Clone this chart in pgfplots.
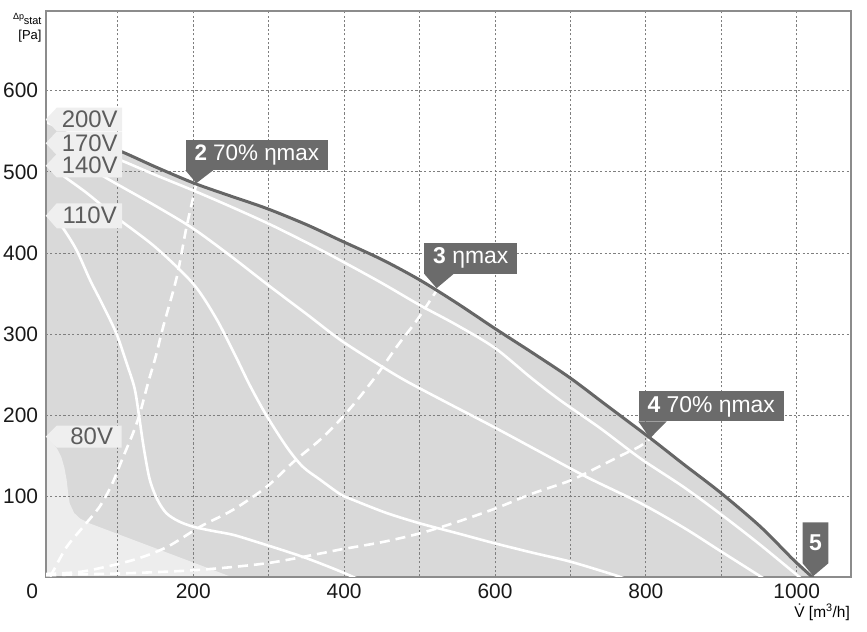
\documentclass[border=0pt]{standalone}
\usepackage{fontspec}
\setmainfont{Liberation Sans}
\usepackage{pgfplots}
\pgfplotsset{compat=1.18}
\definecolor{fillg}{HTML}{D9D9D9}
\definecolor{lightg}{HTML}{EDEDED}
\definecolor{darkl}{HTML}{666666}
\definecolor{callg}{HTML}{6B6B6B}
\definecolor{tagg}{HTML}{EFEFEF}
\definecolor{tagt}{HTML}{5C5C5C}
\definecolor{gridc}{HTML}{7F7F7F}
\definecolor{axisc}{HTML}{8C8C8C}
\begin{document}
\begin{tikzpicture}
\begin{axis}[
  set layers, clip mode=individual,
  at={(0bp,0bp)}, anchor=south west,
  scale only axis, width=805.3bp, height=565.7bp,
  xmin=4.3, xmax=1072, ymin=1.5, ymax=698,
  xtick={200,400,600,800,1000},
  minor xtick={100,300,500,700,900},
  ytick={100,200,300,400,500,600},
  grid=both,
  major grid style={gridc, line width=0.9bp, dash pattern=on 2.2bp off 2.2bp},
  minor grid style={gridc, line width=0.9bp, dash pattern=on 2.2bp off 2.2bp},
  major tick length=0pt, minor tick length=0pt,
  axis line style={axisc, line width=2.2bp},
  /pgf/number format/assume math mode=true,
  /pgf/number format/1000 sep={},
  tick label style={font=\fontsize{21}{24}\selectfont, inner sep=0pt, text=black!90},
  xticklabel style={yshift=-7bp},
  yticklabel style={xshift=-7.4bp},
]
% gray operating area (under top curve)
\addplot[on layer=axis background, fill=fillg, draw=none, smooth, tension=0.5] coordinates {
(0,561) (50,543) (107,524) (150,506) (201,486) (250,470) (297,455) (350,435) (394,416)
(450,392) (500,367) (550,338) (600,307) (650,277) (700,246) (750,211) (806,172) (850,140)
(899,105) (952,63) (996,22) (1022,0)} \closedcycle;
% light 80V region
\addplot[on layer=axis background, fill=lightg, draw=none] coordinates {
(0,176) (8,172) (14,166) (20,158) (25,149) (29,136) (32,121) (34,105) (36,92) (42,80) (50,73) (63,67) (254,0) (0,0)} -- cycle;

% white speed curves
\addplot[white, line width=2.6bp, smooth, tension=0.5] coordinates {
(70,526) (107,513) (150,496) (200,477) (250,457) (300,436) (350,413) (395,391)
(450,363) (500,336) (550,311) (600,283) (647,247) (686,219) (740,184) (793,147) (850,112)
(900,78) (950,42) (1005,0) (1010,-4)};
\addplot[white, line width=2.6bp, smooth, tension=0.5] coordinates {
(70,501) (89,490) (150,458) (200,430) (250,396) (300,360) (350,325) (395,293)
(440,266) (481,243) (540,214) (598,186) (660,155) (722,124) (793,92) (850,62) (899,33)
(950,3) (960,-3)};
\addplot[white, line width=2.6bp, smooth, tension=0.5] coordinates {
(28,495) (32,492) (60,473) (98,444) (150,407) (200,362) (230,320) (255,275) (275,237)
(297,200) (324,161) (345,137) (368,121) (395,103) (412,96) (456,80) (501,67) (550,55)
(598,43) (650,31) (700,20) (757,4) (775,-2)};
\addplot[white, line width=2.6bp, smooth, tension=0.5] coordinates {
(18,440) (27,431) (45,404) (63,367) (80,336) (98,301) (111,266) (122,234) (128,200)
(134,162) (142,122) (152,97) (164,80) (180,70) (200,63) (225,58) (253,53) (285,44)
(319,34) (345,26) (368,18) (395,8) (410,2) (420,-2)};

% dashed efficiency lines
\addplot[white, line width=2.6bp, dash pattern=on 10bp off 6bp, smooth, tension=0.5] coordinates {
(10,2) (14,8) (32,38) (55,64) (76,88) (92,115) (107,149) (120,178) (129,202) (140,240)
(150,272) (160,309) (178,370) (191,432) (204,485)};
\addplot[white, line width=2.6bp, dash pattern=on 10bp off 6bp, smooth, tension=0.5] coordinates {
(5,5) (54,8) (120,22) (165,38) (209,63) (253,84) (297,112) (333,143) (368,170) (395,195)
(420,222) (445,252) (470,285) (497,318) (522,353)};
\addplot[white, line width=2.6bp, dash pattern=on 10bp off 6bp, smooth, tension=0.5] coordinates {
(5,3) (32,4) (120,6) (209,10) (297,18) (368,30) (395,35) (450,44) (501,55) (550,69)
(602,86) (650,104) (700,120) (740,138) (770,152) (792,162) (805,171)};

% top (200V) curve
\addplot[darkl, line width=3bp, smooth, tension=0.5] coordinates {
(80,533) (107,524) (150,506) (201,486) (250,470) (297,455) (350,435) (394,416)
(450,392) (500,367) (550,338) (600,307) (650,277) (700,246) (750,211) (806,172) (850,140)
(899,105) (952,63) (996,22) (1022,0)};

% voltage tags
\fill[tagg] (axis cs:4.3,564.5) -- ([xshift=11bp,yshift=11.7bp]axis cs:4.3,564.5) -- ([xshift=76.5bp,yshift=11.7bp]axis cs:4.3,564.5) -- ([xshift=76.5bp,yshift=-11.7bp]axis cs:4.3,564.5) -- ([xshift=11bp,yshift=-11.7bp]axis cs:4.3,564.5) -- cycle;
\node[text=tagt, font=\fontsize{24}{24}\selectfont, inner sep=0pt] at ([xshift=44bp]axis cs:4.3,564.5) {200V};
\fill[tagg] (axis cs:4.3,535.2) -- ([xshift=11bp,yshift=11.7bp]axis cs:4.3,535.2) -- ([xshift=76.5bp,yshift=11.7bp]axis cs:4.3,535.2) -- ([xshift=76.5bp,yshift=-11.7bp]axis cs:4.3,535.2) -- ([xshift=11bp,yshift=-11.7bp]axis cs:4.3,535.2) -- cycle;
\node[text=tagt, font=\fontsize{24}{24}\selectfont, inner sep=0pt] at ([xshift=44bp]axis cs:4.3,535.2) {170V};
\fill[tagg] (axis cs:4.3,507.5) -- ([xshift=11bp,yshift=11.7bp]axis cs:4.3,507.5) -- ([xshift=76.5bp,yshift=11.7bp]axis cs:4.3,507.5) -- ([xshift=76.5bp,yshift=-11.7bp]axis cs:4.3,507.5) -- ([xshift=11bp,yshift=-11.7bp]axis cs:4.3,507.5) -- cycle;
\node[text=tagt, font=\fontsize{24}{24}\selectfont, inner sep=0pt] at ([xshift=44bp]axis cs:4.3,507.5) {140V};
\fill[tagg] (axis cs:4.3,445.9) -- ([xshift=11bp,yshift=12.5bp]axis cs:4.3,445.9) -- ([xshift=76.5bp,yshift=12.5bp]axis cs:4.3,445.9) -- ([xshift=76.5bp,yshift=-12.5bp]axis cs:4.3,445.9) -- ([xshift=11bp,yshift=-12.5bp]axis cs:4.3,445.9) -- cycle;
\node[text=tagt, font=\fontsize{24}{24}\selectfont, inner sep=0pt] at ([xshift=44bp]axis cs:4.3,445.9) {110V};
\fill[tagg] (axis cs:4.3,174) -- ([xshift=11bp,yshift=11bp]axis cs:4.3,174) -- ([xshift=76bp,yshift=11bp]axis cs:4.3,174) -- ([xshift=76bp,yshift=-11bp]axis cs:4.3,174) -- ([xshift=11bp,yshift=-11bp]axis cs:4.3,174) -- cycle;
\node[text=tagt, font=\fontsize{24}{24}\selectfont, inner sep=0pt] at ([xshift=46bp]axis cs:4.3,174) {80V};

% callouts
\fill[callg] (axis cs:204,486) -- ([xshift=-11bp,yshift=13bp]axis cs:204,486) -- ([xshift=17bp,yshift=13bp]axis cs:204,486) -- cycle;
\node[fill=callg, text=white, anchor=south west, inner xsep=9bp, inner ysep=0pt, minimum height=30bp, font=\fontsize{22.5}{22.5}\selectfont] at ([xshift=-11bp,yshift=12.7bp]axis cs:204,486) {\textbf{2} 70\% ηmax};

\fill[callg] (axis cs:522.7,356.7) -- ([xshift=-12.7bp,yshift=14.6bp]axis cs:522.7,356.7) -- ([xshift=17.3bp,yshift=14.6bp]axis cs:522.7,356.7) -- cycle;
\node[fill=callg, text=white, anchor=south west, inner xsep=9bp, inner ysep=0pt, minimum height=30.7bp, font=\fontsize{23}{23}\selectfont] at ([xshift=-12.7bp,yshift=14.3bp]axis cs:522.7,356.7) {\textbf{3} ηmax};

\fill[callg] (axis cs:805.5,171.9) -- ([xshift=-11.7bp,yshift=16.9bp]axis cs:805.5,171.9) -- ([xshift=16.7bp,yshift=16.9bp]axis cs:805.5,171.9) -- cycle;
\node[fill=callg, text=white, anchor=south west, inner xsep=9bp, inner ysep=0pt, minimum height=30bp, font=\fontsize{23}{23}\selectfont] at ([xshift=-11.7bp,yshift=16.6bp]axis cs:805.5,171.9) {\textbf{4} 70\% ηmax};

\fill[callg] (axis cs:1022,2.3) -- ([xshift=-10.6bp,yshift=12.7bp]axis cs:1022,2.3) -- ([xshift=-10.6bp,yshift=53.7bp]axis cs:1022,2.3) -- ([xshift=15bp,yshift=53.7bp]axis cs:1022,2.3) -- ([xshift=15bp,yshift=12.7bp]axis cs:1022,2.3) -- cycle;
\node[text=white, inner sep=0pt, font=\fontsize{23}{23}\selectfont\bfseries] at ([xshift=2.2bp,yshift=33bp]axis cs:1022,2.3) {5};
\end{axis}
% origin label and axis titles
\node[anchor=north east, inner sep=0pt, font=\fontsize{21}{24}\selectfont, text=black!90] at (-7.4bp,-7bp) {0};
\node[anchor=base east, inner sep=0pt, font=\fontsize{13}{14}\selectfont] at (-4bp,537.2bp) {[Pa]};
\node[anchor=base east, inner sep=0pt, font=\fontsize{11}{12}\selectfont] at (-4bp,551.7bp) {stat};
\node[anchor=base east, inner sep=0pt, font=\fontsize{9}{10}\selectfont] at (-21.5bp,556.7bp) {Δp};
\node[anchor=base east, inner sep=0pt, font=\fontsize{15.5}{17}\selectfont] at (804.3bp,-40.3bp) {\.{V} [m\textsuperscript{3}/h]};
\pgfresetboundingbox
\useasboundingbox (-45.7bp,-55.3bp) rectangle (821.3bp,576.7bp);
\end{tikzpicture}
\end{document}
